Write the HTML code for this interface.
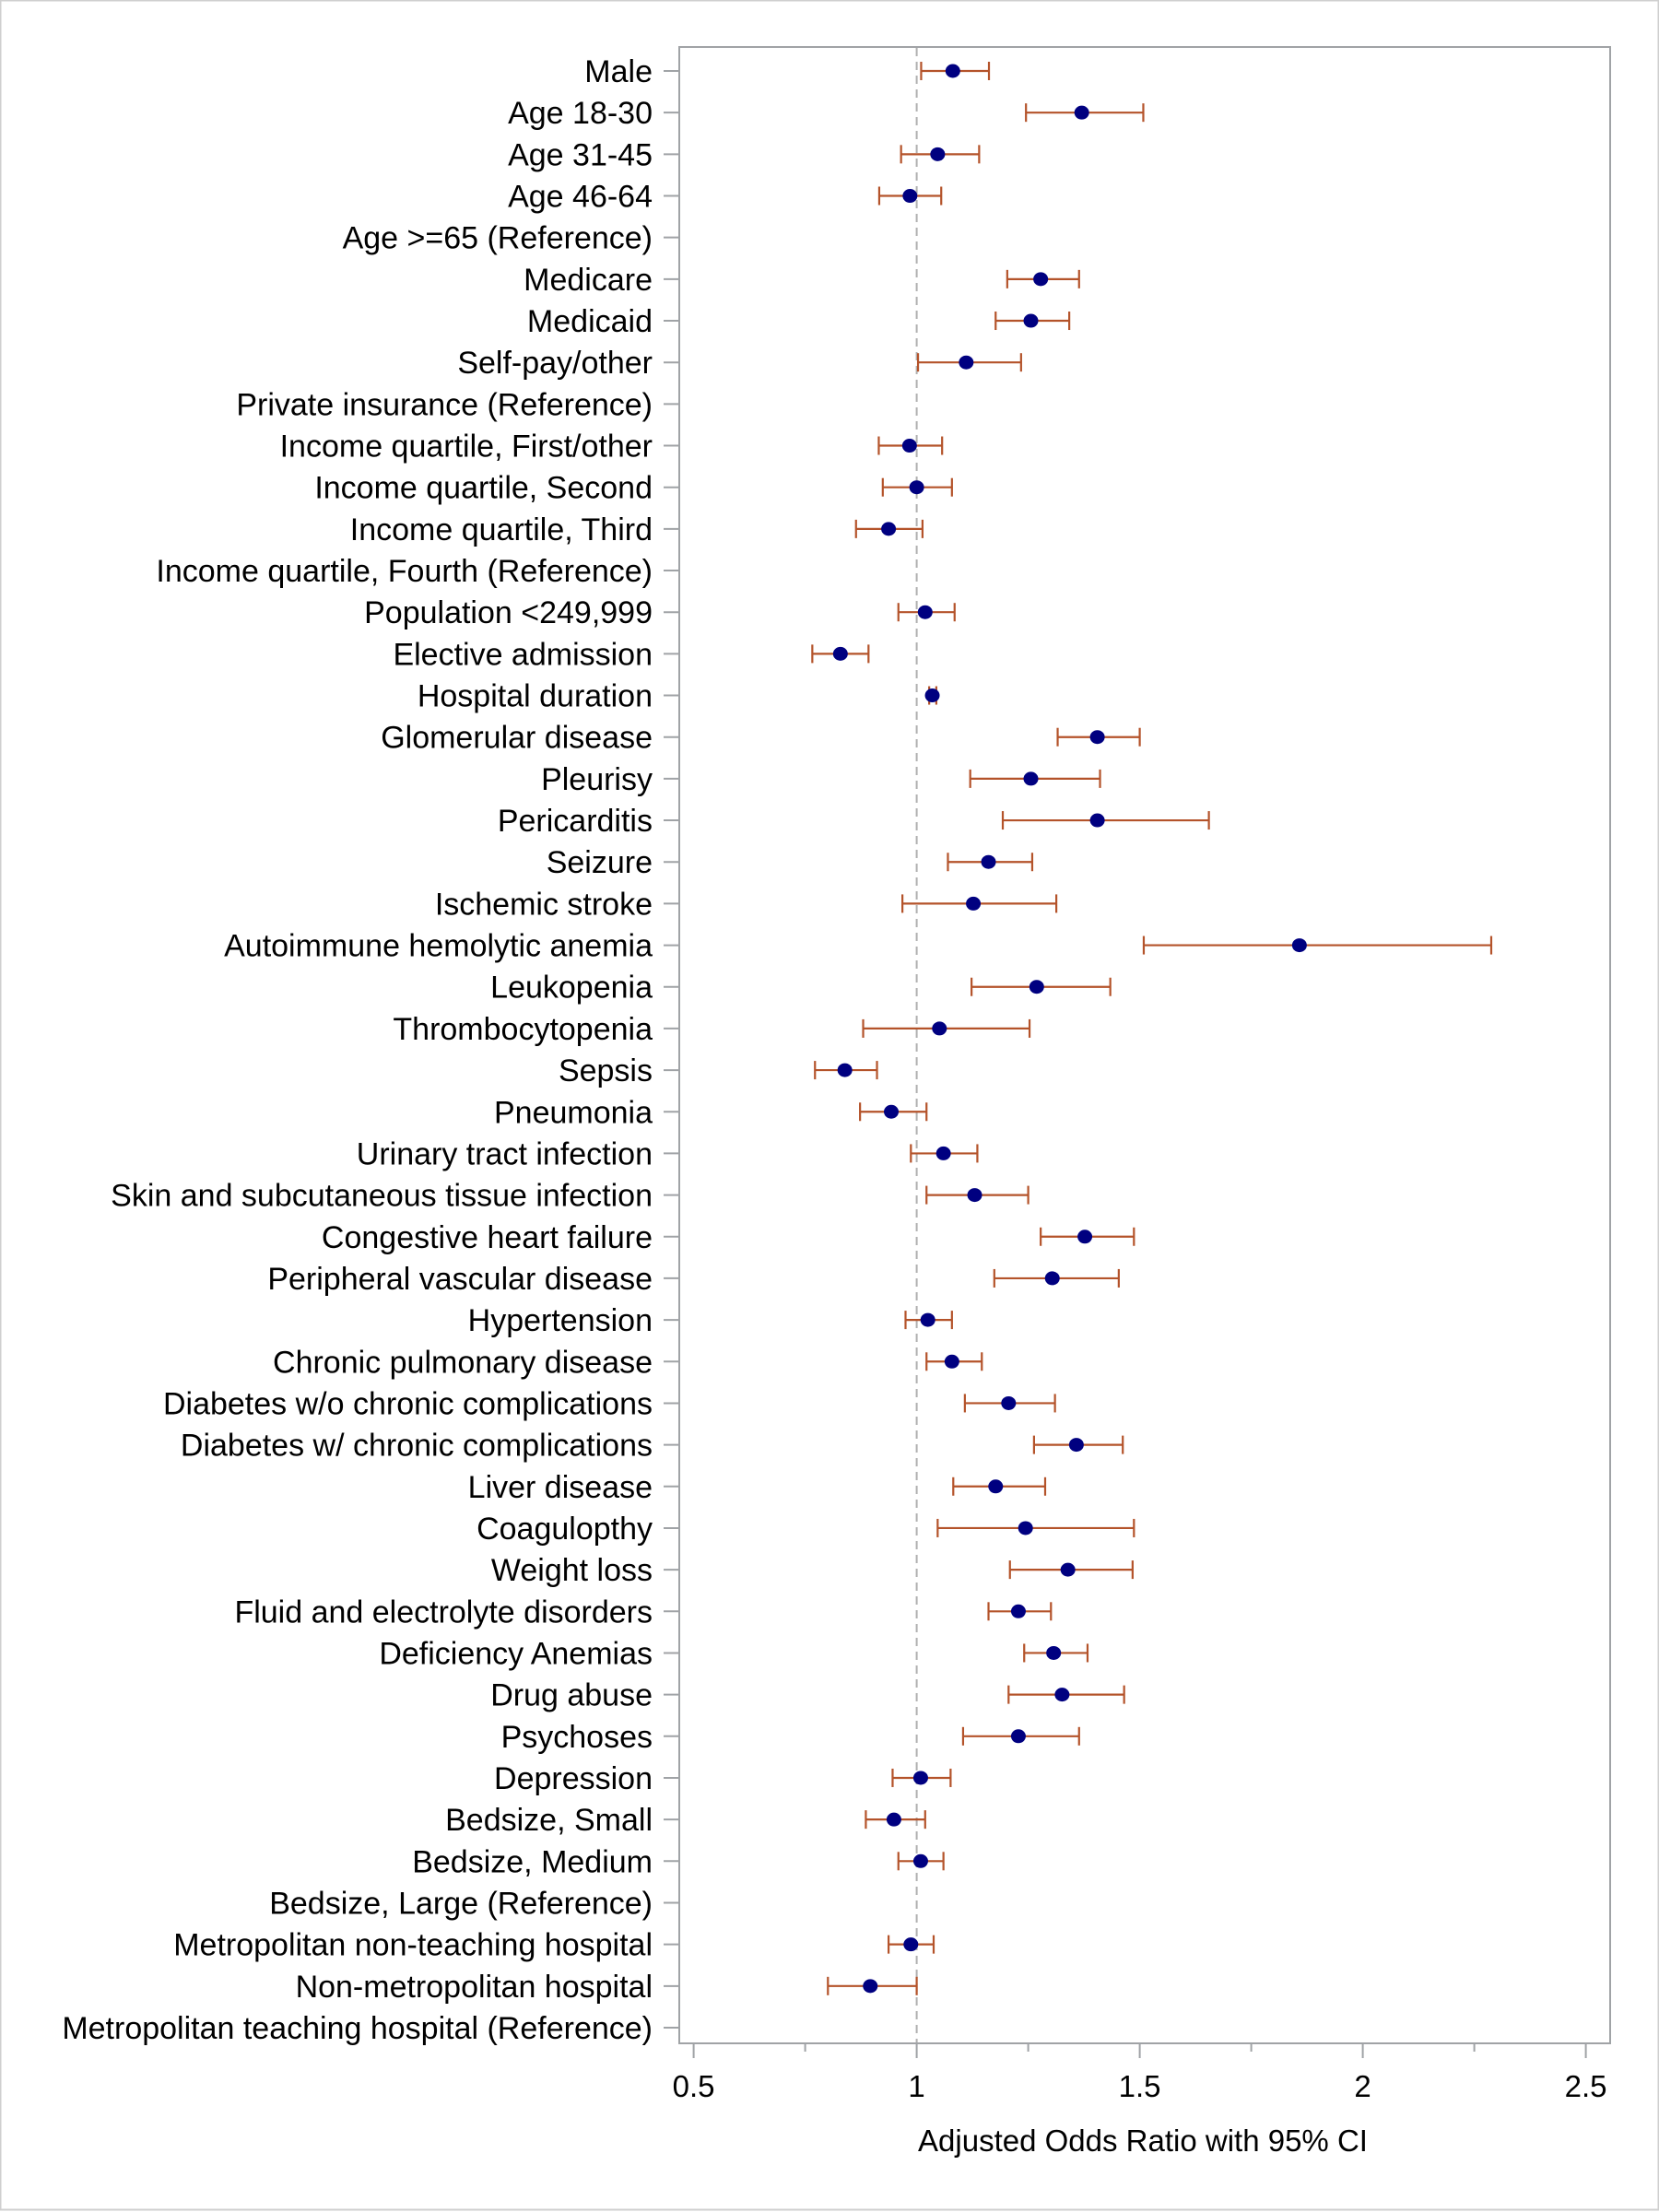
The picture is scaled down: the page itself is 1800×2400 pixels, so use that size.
<!DOCTYPE html>
<html><head><meta charset="utf-8"><style>
html,body{margin:0;padding:0;background:#fff;}
svg{display:block;font-family:"Liberation Sans",sans-serif;}
</style></head><body>
<svg id="chart" width="1800" height="2400" viewBox="0 0 1800 2400" xmlns="http://www.w3.org/2000/svg">
<rect x="0.5" y="0.5" width="1799" height="2397" fill="#fff" stroke="#cfcfcf" stroke-width="2"/>
<g id="plot"></g>
</svg>
<script>
const categories = ["Male","Age 18-30","Age 31-45","Age 46-64","Age >=65 (Reference)","Medicare","Medicaid","Self-pay/other","Private insurance (Reference)","Income quartile, First/other","Income quartile, Second","Income quartile, Third","Income quartile, Fourth (Reference)","Population <249,999","Elective admission","Hospital duration","Glomerular disease","Pleurisy","Pericarditis","Seizure","Ischemic stroke","Autoimmune hemolytic anemia","Leukopenia","Thrombocytopenia","Sepsis","Pneumonia","Urinary tract infection","Skin and subcutaneous tissue infection","Congestive heart failure","Peripheral vascular disease","Hypertension","Chronic pulmonary disease","Diabetes w/o chronic complications","Diabetes w/ chronic complications","Liver disease","Coagulopthy","Weight loss","Fluid and electrolyte disorders","Deficiency Anemias","Drug abuse","Psychoses","Depression","Bedsize, Small","Bedsize, Medium","Bedsize, Large (Reference)","Metropolitan non-teaching hospital","Non-metropolitan hospital","Metropolitan teaching hospital (Reference)"];
const oddsRatio = [1.081,1.370,1.047,0.985,null,1.278,1.256,1.111,null,0.984,1.000,0.937,null,1.019,0.829,1.035,1.405,1.256,1.405,1.161,1.127,1.858,1.269,1.051,0.839,0.943,1.060,1.130,1.377,1.304,1.025,1.079,1.206,1.358,1.177,1.244,1.339,1.228,1.307,1.326,1.228,1.009,0.949,1.009,null,0.987,0.896,null];
const lowerCI = [1.010,1.245,0.965,0.916,null,1.203,1.177,1.003,null,0.915,0.924,0.864,null,0.959,0.766,1.028,1.316,1.120,1.193,1.070,0.968,1.509,1.123,0.880,0.772,0.873,0.987,1.022,1.278,1.174,0.975,1.022,1.108,1.263,1.082,1.047,1.209,1.161,1.241,1.206,1.104,0.946,0.886,0.959,null,0.937,0.801,null];
const upperCI = [1.162,1.508,1.140,1.055,null,1.364,1.342,1.234,null,1.057,1.079,1.013,null,1.085,0.892,1.044,1.500,1.411,1.655,1.259,1.313,2.288,1.434,1.253,0.911,1.022,1.136,1.250,1.487,1.453,1.079,1.146,1.310,1.462,1.288,1.487,1.484,1.301,1.383,1.465,1.364,1.076,1.019,1.060,null,1.038,1.000,null];
const xTicks = [0.5,1,1.5,2,2.5];
const xTickLabels = ["0.5","1","1.5","2","2.5"];
const xMinorTicks = [0.75,1.25,1.75,2.25];

const NS="http://www.w3.org/2000/svg";
const g=document.getElementById('plot');
const L=737,R=1747,T=51,B=2217;
const x=v=>752.6+(v-0.5)*484;
const y=i=>77+i*45.17;
function mk(tag,attrs,parent){const e=document.createElementNS(NS,tag);for(const k in attrs)e.setAttribute(k,attrs[k]);(parent||g).appendChild(e);return e;}

const frame=mk('rect',{x:L,y:T,width:R-L,height:B-T,fill:'none',stroke:'#a0a3a6','stroke-width':2});



const ref=mk('line',{x1:x(1),x2:x(1),y1:T+1,y2:B-1,stroke:'#b0b0b0','stroke-width':2,'stroke-dasharray':'9,6'});



xTicks.forEach((v,i)=>{
  const t=mk('line',{x1:x(v),x2:x(v),y1:B,y2:B+16,stroke:'#a0a3a6','stroke-width':2});
  
  
  const l=mk('text',{x:x(v),y:2275,'text-anchor':'middle','font-size':33,fill:'#000'});
  l.textContent=xTickLabels[i];
  
  
});
xMinorTicks.forEach(v=>{
  const t=mk('line',{x1:x(v),x2:x(v),y1:B,y2:B+9,stroke:'#a0a3a6','stroke-width':2});
  
  
});
const xt=mk('text',{x:1240,y:2334,'text-anchor':'middle','font-size':33,fill:'#000'});
xt.textContent='Adjusted Odds Ratio with 95% CI';



categories.forEach((c,i)=>{
  const yy=y(i);
  const t=mk('line',{x1:720,x2:L,y1:yy,y2:yy,stroke:'#a0a3a6','stroke-width':2});
  
  
  const l=mk('text',{x:708,y:yy+12,'text-anchor':'end','font-size':34,fill:'#000'});
  l.textContent=c;
  
  
  if(oddsRatio[i]==null)return;
  const eg=mk('g',{});
  
  
  const st={stroke:'#b4532a','stroke-width':2.2};
  const ln=mk('line',Object.assign({x1:x(lowerCI[i]),x2:x(upperCI[i]),y1:yy,y2:yy},st),eg);
  
  
  [lowerCI[i],upperCI[i]].forEach(v=>{
    const cp=mk('line',Object.assign({x1:x(v),x2:x(v),y1:yy-10,y2:yy+10},st),eg);
    
    
  });
  const p=mk('ellipse',{cx:x(oddsRatio[i]),cy:yy,rx:8,ry:7.5,fill:'#000080'},eg);
  
  
});
</script>
</body></html>
